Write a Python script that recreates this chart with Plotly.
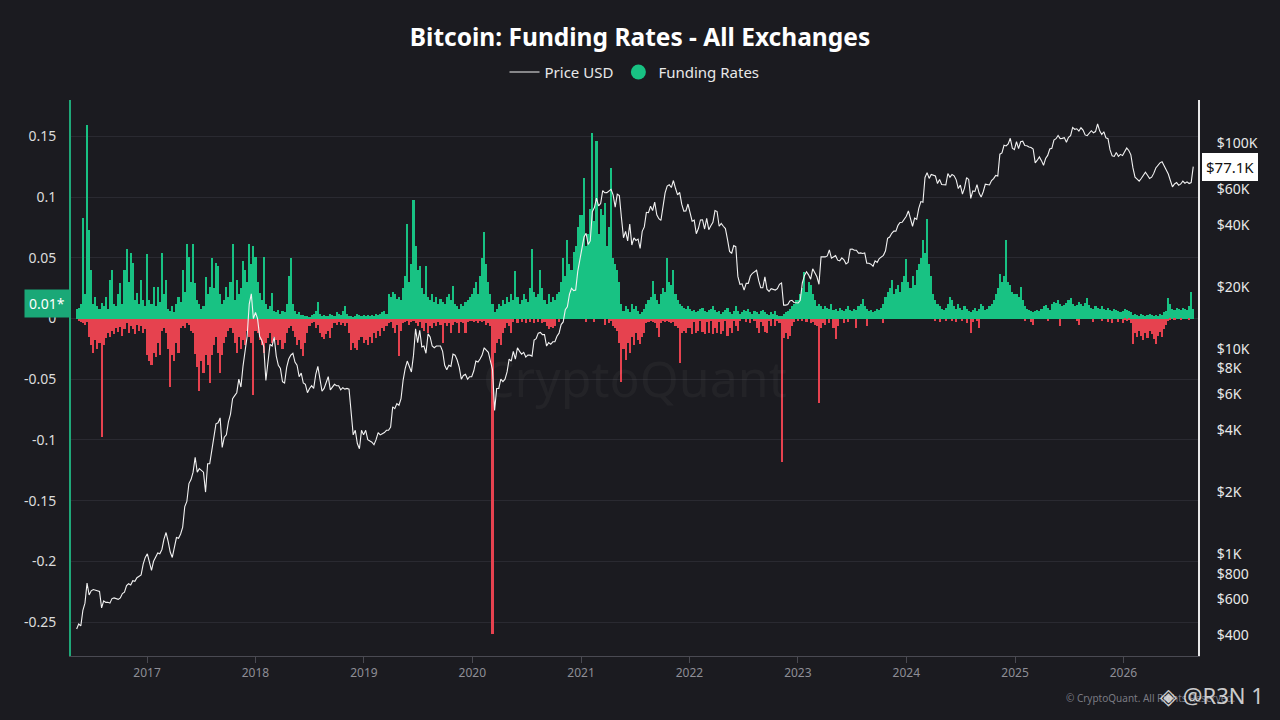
import pandas as pd
import plotly.graph_objects as go

# weekly samples (mondays), one block per calendar year
year_starts = ["2016-05-09", "2017-01-02", "2018-01-01", "2019-01-07", "2020-01-06", "2021-01-04",
               "2022-01-03", "2023-01-02", "2024-01-01", "2025-01-06", "2026-01-05"]

# Price USD
price_2016 = [430, 455, 445, 530, 575, 720, 630, 660, 670, 665, 655, 655, 545, 590, 580, 580, 575,
              605, 610, 605, 600, 610, 640, 650, 700, 715, 705, 740, 735, 765, 775, 790, 890, 960]
price_2017 = [1000, 900, 830, 920, 970, 1010, 1000, 1050, 1180, 1270, 1150, 1020, 960,
              1080, 1200, 1190, 1250, 1350, 1700, 1800, 2200, 2300, 2500, 2950, 2500, 2600,
              2550, 2500, 2000, 2750, 2750, 3200, 3900, 4300, 4350, 4600, 3300, 3700, 3800,
              4400, 4800, 5700, 5900, 6100, 7100, 6500, 8200, 9700, 11500, 16500, 18500, 14000]
price_2018 = [15000, 14000, 11500, 11000, 10200, 7000, 8500, 10500, 10300, 11400, 9200, 8300, 8000,
              6900, 6800, 8100, 8900, 9300, 9500, 8600, 8300, 7300, 7600, 6800, 6700, 6100,
              6400, 6600, 6400, 7500, 8200, 7000, 6200, 6400, 6900, 7300, 6300, 6500, 6700,
              6600, 6600, 6300, 6450, 6350, 6400, 6350, 4700, 3800, 4000, 3450, 3250, 4000, 3800]
price_2019 = [4000, 3600, 3550, 3500, 3400, 3600, 3900, 3800, 3850, 3900, 4000, 4000, 4150,
              5200, 5100, 5400, 5300, 5700, 7000, 8000, 8700, 8100, 7700, 9300, 12500, 10700,
              12300, 10200, 10300, 9500, 11800, 11400, 10300, 10100, 10300, 10300, 10300, 9700, 8300,
              7900, 8300, 8200, 9400, 9300, 8800, 8100, 7100, 7400, 7500, 7100, 7300, 7300]
price_2020 = [7800, 8700, 8600, 8900, 9300, 10100, 9900, 9600, 8700, 7900, 5000, 6400, 6400,
              7100, 6900, 7100, 7700, 8900, 8700, 9700, 8900, 10100, 9700, 9400, 9600, 9100,
              9300, 9300, 9200, 11000, 11200, 11900, 12000, 11700, 11700, 10300, 10700, 10500, 10800,
              10800, 11500, 11900, 13100, 13500, 15500, 16000, 18400, 19700, 19200, 19300, 23800, 27000]
price_2021 = [32000, 35000, 36500, 32200, 33500, 46500, 48700, 54100, 49600, 51000, 59000, 57500, 57600,
              58800, 59800, 56200, 49000, 56600, 55800, 43500, 34700, 37300, 33500, 40500, 32000, 34700,
              33700, 34200, 30800, 37300, 39200, 46200, 46000, 49500, 47100, 51800, 44900, 43000, 42200,
              49200, 57500, 62000, 63000, 61000, 66000, 60500, 56200, 57800, 50600, 46800, 46900, 50700]
price_2022 = [46400, 41800, 42300, 36300, 38500, 42400, 42500, 38300, 43200, 38000, 39700, 41300, 47100,
              46600, 39500, 40800, 39500, 38500, 34100, 29800, 29100, 31800, 31400, 22500, 20600, 20700,
              19300, 20800, 20800, 22600, 23300, 23800, 24100, 21500, 19800, 19800, 22400, 19500, 19000,
              19600, 19400, 19300, 19600, 20600, 20900, 16300, 16300, 16400, 17100, 17200, 16800, 16800]
price_2023 = [16700, 17200, 20900, 22700, 23700, 22900, 21800, 24500, 23500, 22400, 20600, 28000, 28000,
              28000, 28300, 30300, 27600, 28000, 28400, 27000, 26800, 27700, 27100, 25900, 26300, 30500,
              30600, 30200, 30200, 29200, 29300, 29100, 29300, 26100, 26100, 25800, 25200, 26800, 26300,
              27500, 27900, 28500, 30000, 34500, 35000, 36500, 37400, 37400, 39900, 41200, 41300, 43000]
price_2024 = [44200, 46900, 42800, 39500, 43300, 42700, 48300, 52100, 51700, 68300, 72100, 67600, 70600,
              69700, 69400, 63800, 66800, 63100, 63100, 62900, 71400, 68500, 70600, 69600, 66500, 60300,
              62700, 56700, 60800, 68200, 66800, 54000, 58700, 58400, 63000, 57300, 54800, 58200, 63300,
              63300, 62800, 66000, 67400, 69900, 69400, 88700, 89900, 98000, 97300, 99500, 106000, 95000, 93400]
price_2025 = [102000, 94500, 102000, 102600, 97700, 97500, 96100, 95600, 94000, 80500, 82900, 86000, 82500,
              78300, 84500, 87500, 94000, 94700, 104000, 105500, 109400, 105700, 105900, 106800, 101500, 107200,
              109200, 119800, 117300, 118000, 115000, 119300, 116200, 110100, 109200, 112100, 115400, 112700, 114300,
              124500, 115200, 110600, 114100, 106500, 105500, 93000, 87000, 86500, 90500, 86500, 88500, 87300]
price_2026 = [91500, 95000, 92500, 88000, 76000, 68500, 67000, 65500, 67500, 69500, 72500, 70000,
              67500, 68500, 71500, 76000, 78500, 80500, 81500, 77500, 74000, 71000, 66000, 61500,
              63500, 64500, 62500, 63500, 65500, 64000, 65000, 63800, 64500, 77100]

# Funding Rates: weekly high (>= 0)
high_2016 = [0.008, 0.009, 0.012, 0.083, 0.02, 0.159, 0.073, 0.04, 0.012, 0.018, 0.01, 0.008, 0.013,
             0.01, 0.018, 0.008, 0.032, 0.04, 0.012, 0.01, 0.02, 0.029, 0.012, 0.04, 0.057, 0.03,
             0.054, 0.046, 0.015, 0.021, 0.012, 0.032, 0.015, 0.01]
high_2017 = [0.053, 0.015, 0.012, 0.026, 0.01, 0.026, 0.014, 0.054, 0.02, 0.032, 0.008, 0.006, 0.01,
             0.005, 0.012, 0.018, 0.014, 0.04, 0.022, 0.061, 0.051, 0.03, 0.061, 0.029, 0.015, 0.012,
             0.008, 0.01, 0.034, 0.02, 0.026, 0.05, 0.025, 0.046, 0.043, 0.02, 0.012, 0.015, 0.026,
             0.018, 0.03, 0.061, 0.015, 0.032, 0.02, 0.025, 0.047, 0.04, 0.03, 0.061, 0.045, 0.06]
high_2018 = [0.051, 0.03, 0.021, 0.015, 0.051, 0.012, 0.008, 0.01, 0.021, 0.006, 0.005, 0.007, 0.004,
             0.006, 0.005, 0.012, 0.035, 0.05, 0.012, 0.006, 0.004, 0.005, 0.003, 0.003, 0.002, 0.002,
             0.001, 0.003, 0.004, 0.006, 0.014, 0.004, 0.002, 0.003, 0.002, 0.002, 0.004, 0.003, 0.002,
             0.005, 0.004, 0.003, 0.006, 0.01, 0.004, 0.002, 0.002, 0.001, 0.002, 0.004, 0.003, 0.002, 0.003]
high_2019 = [0.002, 0.003, 0.002, 0.003, 0.002, 0.004, 0.003, 0.004, 0.005, 0.006, 0.004, 0.02, 0.018,
             0.022, 0.02, 0.016, 0.018, 0.015, 0.025, 0.035, 0.078, 0.03, 0.045, 0.098, 0.06, 0.04,
             0.043, 0.025, 0.02, 0.043, 0.018, 0.015, 0.02, 0.014, 0.018, 0.012, 0.016, 0.014, 0.012,
             0.018, 0.02, 0.015, 0.027, 0.012, 0.01, 0.008, 0.012, 0.01, 0.014, 0.015, 0.018, 0.02]
high_2020 = [0.025, 0.03, 0.02, 0.035, 0.05, 0.071, 0.045, 0.03, 0.02, 0.012, 0.005, 0.008, 0.012,
             0.01, 0.015, 0.012, 0.018, 0.014, 0.02, 0.015, 0.039, 0.018, 0.012, 0.015, 0.02, 0.016,
             0.014, 0.025, 0.057, 0.022, 0.018, 0.02, 0.04, 0.025, 0.015, 0.012, 0.02, 0.014, 0.018,
             0.015, 0.02, 0.022, 0.03, 0.05, 0.035, 0.065, 0.045, 0.04, 0.055, 0.06, 0.075, 0.085]
high_2021 = [0.085, 0.116, 0.06, 0.07, 0.09, 0.153, 0.08, 0.146, 0.07, 0.09, 0.085, 0.095, 0.06,
             0.075, 0.124, 0.05, 0.045, 0.04, 0.03, 0.012, 0.006, 0.01, 0.008, 0.005, 0.012, 0.008,
             0.01, 0.006, 0.004, 0.005, 0.008, 0.012, 0.015, 0.018, 0.031, 0.02, 0.015, 0.012, 0.02,
             0.025, 0.022, 0.05, 0.03, 0.028, 0.04, 0.02, 0.015, 0.012, 0.01, 0.009, 0.008, 0.01]
high_2022 = [0.008, 0.006, 0.007, 0.005, 0.006, 0.008, 0.009, 0.006, 0.005, 0.007, 0.008, 0.01, 0.007,
             0.005, 0.006, 0.004, 0.005, 0.007, 0.009, 0.005, 0.004, 0.006, 0.01, 0.006, 0.004, 0.005,
             0.007, 0.006, 0.008, 0.005, 0.004, 0.006, 0.005, 0.004, 0.006, 0.007, 0.005, 0.004, 0.003,
             0.005, 0.004, 0.006, 0.003, 0.002, 0.002, 0.004, 0.005, 0.006, 0.008, 0.01, 0.012, 0.015]
high_2023 = [0.015, 0.02, 0.025, 0.038, 0.022, 0.03, 0.028, 0.02, 0.015, 0.01, 0.012, 0.01, 0.008,
             0.01, 0.009, 0.008, 0.012, 0.007, 0.008, 0.006, 0.009, 0.007, 0.006, 0.008, 0.01, 0.007,
             0.006, 0.008, 0.007, 0.01, 0.012, 0.016, 0.01, 0.008, 0.006, 0.007, 0.005, 0.006, 0.008,
             0.007, 0.009, 0.012, 0.018, 0.022, 0.025, 0.032, 0.02, 0.024, 0.028, 0.022, 0.03, 0.035]
high_2024 = [0.049, 0.03, 0.025, 0.035, 0.028, 0.04, 0.045, 0.05, 0.065, 0.054, 0.082, 0.045, 0.035,
             0.02, 0.015, 0.012, 0.01, 0.008, 0.007, 0.009, 0.012, 0.018, 0.015, 0.01, 0.008, 0.012,
             0.009, 0.007, 0.01, 0.008, 0.006, 0.005, 0.007, 0.009, 0.006, 0.008, 0.012, 0.01, 0.007,
             0.008, 0.01, 0.012, 0.015, 0.02, 0.025, 0.037, 0.03, 0.035, 0.065, 0.03, 0.028, 0.022, 0.02]
high_2025 = [0.02, 0.018, 0.026, 0.015, 0.01, 0.008, 0.007, 0.006, 0.005, 0.006, 0.007, 0.006, 0.008,
             0.01, 0.011, 0.009, 0.007, 0.012, 0.014, 0.013, 0.015, 0.012, 0.01, 0.011, 0.013, 0.015,
             0.017, 0.012, 0.01, 0.011, 0.014, 0.012, 0.01, 0.013, 0.017, 0.011, 0.009, 0.008, 0.01,
             0.009, 0.008, 0.01, 0.008, 0.007, 0.009, 0.007, 0.006, 0.008, 0.007, 0.006, 0.005, 0.006]
high_2026 = [0.008, 0.007, 0.006, 0.005, 0.003, 0.004, 0.003, 0.002, 0.004, 0.003, 0.002, 0.003,
             0.004, 0.003, 0.002, 0.003, 0.002, 0.004, 0.003, 0.005, 0.006, 0.017, 0.012, 0.008,
             0.007, 0.009, 0.008, 0.007, 0.009, 0.008, 0.007, 0.01, 0.022, 0.008]

# Funding Rates: weekly low (<= 0)
low_2016 = [0, -0.002, -0.003, -0.004, -0.005, -0.003, -0.015, -0.022, -0.028, -0.018, -0.025, -0.02, -0.098,
            -0.022, -0.016, -0.012, -0.015, -0.01, -0.013, -0.008, -0.011, -0.007, -0.014, -0.009, -0.004, -0.012,
            -0.006, -0.009, -0.013, -0.005, -0.01, -0.006, -0.012, -0.009]
low_2017 = [-0.03, -0.035, -0.038, -0.028, -0.032, -0.02, -0.03, -0.01, -0.008, -0.012, -0.025, -0.056, -0.03,
            -0.035, -0.02, -0.028, -0.008, -0.006, -0.008, -0.004, -0.005, -0.01, -0.012, -0.029, -0.04, -0.06,
            -0.035, -0.045, -0.03, -0.038, -0.053, -0.03, -0.022, -0.015, -0.028, -0.045, -0.03, -0.02, -0.015,
            -0.01, -0.008, -0.012, -0.02, -0.028, -0.015, -0.025, -0.018, -0.022, -0.01, -0.015, -0.02, -0.063]
low_2018 = [-0.01, -0.012, -0.018, -0.022, -0.028, -0.02, -0.016, -0.012, -0.02, -0.015, -0.018, -0.022, -0.018,
            -0.025, -0.02, -0.012, -0.008, -0.006, -0.01, -0.015, -0.022, -0.018, -0.025, -0.031, -0.02, -0.012,
            -0.006, -0.004, -0.003, -0.008, -0.005, -0.012, -0.015, -0.017, -0.013, -0.01, -0.016, -0.008, -0.004,
            -0.005, -0.003, -0.005, -0.004, -0.006, -0.004, -0.012, -0.026, -0.02, -0.024, -0.026, -0.018, -0.015, -0.02]
low_2019 = [-0.018, -0.022, -0.015, -0.02, -0.012, -0.016, -0.01, -0.014, -0.008, -0.01, -0.006, -0.004, -0.003,
            -0.008, -0.012, -0.005, -0.031, -0.01, -0.004, -0.003, -0.002, -0.005, -0.003, -0.002, -0.004, -0.006,
            -0.003, -0.008, -0.01, -0.004, -0.012, -0.006, -0.008, -0.004, -0.006, -0.003, -0.005, -0.02, -0.004,
            -0.006, -0.004, -0.012, -0.005, -0.003, -0.004, -0.012, -0.003, -0.004, -0.012, -0.003, -0.002, -0.002]
low_2020 = [-0.003, -0.002, -0.004, -0.002, -0.003, -0.002, -0.005, -0.004, -0.006, -0.26, -0.028, -0.02, -0.017,
            -0.022, -0.012, -0.008, -0.004, -0.006, -0.012, -0.003, 0, -0.004, 0, -0.003, 0, -0.004,
            0, -0.003, 0, -0.004, 0, -0.003, 0, -0.004, -0.003, -0.006, -0.009, -0.007, -0.008,
            -0.006, 0, -0.003, 0, 0, 0, 0, 0, 0, 0, 0, 0, 0]
low_2021 = [0, 0, -0.003, 0, 0, 0, -0.003, 0, 0, 0, 0, -0.005, 0,
            -0.004, -0.002, -0.006, -0.008, -0.01, -0.02, -0.052, -0.025, -0.034, -0.02, -0.028, -0.015, -0.022,
            -0.012, -0.018, -0.021, -0.015, -0.012, -0.004, -0.003, -0.002, -0.003, -0.004, -0.008, -0.015, -0.004,
            -0.002, -0.003, -0.002, -0.003, -0.004, -0.003, -0.006, -0.008, -0.037, -0.012, -0.01, -0.012, -0.008]
low_2022 = [-0.008, -0.013, -0.003, -0.012, -0.01, -0.002, -0.011, -0.013, -0.003, -0.012, -0.002, -0.013, -0.008,
            -0.012, -0.003, -0.013, -0.01, -0.002, -0.014, -0.008, -0.012, -0.002, -0.006, -0.01, -0.002, 0,
            0, -0.003, 0, -0.004, 0, -0.002, -0.008, -0.012, -0.003, -0.006, -0.011, -0.012, -0.002,
            -0.006, 0, -0.006, -0.002, -0.004, -0.118, -0.016, -0.012, -0.017, -0.014, -0.006, -0.003, 0]
low_2023 = [-0.002, 0, -0.002, 0, -0.003, 0, -0.004, -0.003, -0.005, -0.006, -0.07, -0.008, -0.004,
            -0.005, 0, -0.004, 0, -0.008, -0.017, -0.006, 0, 0, -0.004, 0, -0.003, 0,
            0, 0, -0.008, 0, 0, 0, 0, -0.006, 0, 0, 0, 0, 0,
            0, 0, -0.004, 0, 0, 0, 0, 0, 0, 0, 0, 0, 0]
low_2024 = [0, 0, 0, 0, 0, 0, 0, 0, 0, 0, 0, 0, 0,
            0, -0.002, 0, -0.003, 0, 0, -0.002, 0, 0, -0.002, 0, -0.003, 0,
            0, -0.002, 0, -0.004, 0, -0.012, -0.003, 0, -0.002, -0.008, 0, 0, 0,
            0, 0, 0, 0, 0, 0, 0, 0, 0, 0, 0, 0, 0, 0]
low_2025 = [0, 0, 0, 0, -0.002, 0, 0, -0.003, -0.005, 0, 0, 0, 0,
            0, 0, -0.002, 0, 0, 0, 0, 0, -0.006, 0, 0, 0, 0,
            0, 0, 0, -0.002, -0.005, 0, 0, 0, 0, 0, 0, -0.003, 0,
            0, 0, -0.002, 0, 0, -0.003, 0, -0.004, 0, 0, -0.003, 0, -0.004]
low_2026 = [-0.001, -0.002, -0.001, -0.004, -0.021, -0.012, -0.015, -0.01, -0.014, -0.018, -0.012, -0.016,
            -0.01, -0.013, -0.017, -0.021, -0.014, -0.011, -0.015, -0.009, -0.005, -0.002, -0.001, 0,
            -0.001, 0, 0, -0.001, 0, 0, 0, -0.001, 0, 0]

rate_ticks = [-0.25, -0.2, -0.15, -0.1, -0.05, 0, 0.05, 0.1, 0.15]
rate_labels = ["-0.25", "-0.2", "-0.15", "-0.1", "-0.05", "0", "0.05", "0.1", "0.15"]
price_ticks = [400, 600, 800, 1000, 2000, 4000, 6000, 8000, 10000, 20000, 40000, 60000, 100000]
price_labels = ["$400", "$600", "$800", "$1K", "$2K", "$4K", "$6K", "$8K", "$10K", "$20K", "$40K", "$60K", "$100K"]
year_ticks = ["2017-01-01", "2018-01-01", "2019-01-01", "2020-01-01", "2021-01-01",
              "2022-01-01", "2023-01-01", "2024-01-01", "2025-01-01", "2026-01-01"]
year_labels = ["2017", "2018", "2019", "2020", "2021", "2022", "2023", "2024", "2025", "2026"]

price_blocks = [price_2016, price_2017, price_2018, price_2019, price_2020, price_2021,
                price_2022, price_2023, price_2024, price_2025, price_2026]
high_blocks = [high_2016, high_2017, high_2018, high_2019, high_2020, high_2021,
               high_2022, high_2023, high_2024, high_2025, high_2026]
low_blocks = [low_2016, low_2017, low_2018, low_2019, low_2020, low_2021,
              low_2022, low_2023, low_2024, low_2025, low_2026]

dates, price, high, low = [], [], [], []
for start, p, h, l in zip(year_starts, price_blocks, high_blocks, low_blocks):
    assert len(p) == len(h) == len(l), start
    dates += list(pd.date_range(start, periods=len(p), freq="7D"))
    price += p
    high += h
    low += l

BG = "#1b1b20"
GREEN = "#18c283"
RED = "#e6424f"
BAR_MS = 7 * 24 * 3600 * 1000

fig = go.Figure()
fig.add_trace(go.Bar(x=dates, y=high, width=BAR_MS, marker=dict(color=GREEN, line=dict(width=0)),
                     showlegend=False, name="Funding Rates"))
fig.add_trace(go.Bar(x=dates, y=low, width=BAR_MS, marker=dict(color=RED, line=dict(width=0)),
                     showlegend=False, name="Funding Rates"))
fig.add_trace(go.Scatter(x=dates, y=price, yaxis="y2", mode="lines", name="Price USD",
                         line=dict(color="#f2f2f2", width=1.1)))
# legend-only entry so the funding series shows a round marker like the original
fig.add_trace(go.Scatter(x=[None], y=[None], mode="markers", name="Funding Rates",
                         marker=dict(color=GREEN, size=15, symbol="circle")))

fig.update_layout(
    width=1280, height=720,
    paper_bgcolor=BG, plot_bgcolor=BG,
    barmode="overlay", bargap=0,
    margin=dict(l=71, r=82, t=100, b=64),
    font=dict(family="Noto Sans", color="#e8e8e8"),
    title=dict(text="<b>Bitcoin: Funding Rates - All Exchanges</b>", x=0.5, xanchor="center",
               y=0.948, yanchor="middle", font=dict(size=24.5, color="#ffffff")),
    legend=dict(orientation="h", x=0.5, xanchor="center", y=1.05, yanchor="middle",
                font=dict(size=15, color="#e8e8e8"), bgcolor="rgba(0,0,0,0)", itemwidth=30,
                traceorder="normal"),
    xaxis=dict(type="date", range=["2016-04-20", "2026-09-09"], tickvals=year_ticks, ticktext=year_labels,
               showgrid=False, showline=True, linecolor="#4a4a52", linewidth=1,
               ticks="outside", ticklen=6, tickcolor="#4a4a52",
               tickfont=dict(size=12, color="#8e8e96"), zeroline=False),
    yaxis=dict(range=[-0.278, 0.18], tickvals=rate_ticks, ticktext=rate_labels,
               showgrid=True, gridcolor="#2a2a31", gridwidth=1, zeroline=False,
               showline=True, linecolor="#1fa878", linewidth=2,
               ticks="", ticklabelstandoff=10, tickfont=dict(size=14, color="#dcdcdc")),
    yaxis2=dict(type="log", overlaying="y", side="right", range=[2.502, 5.212],
                tickvals=price_ticks, ticktext=price_labels, showgrid=False, zeroline=False,
                showline=True, linecolor="#e8e8e8", linewidth=2,
                ticks="", ticklabelstandoff=14, tickfont=dict(size=14, color="#e8e8e8")),
    hovermode=False,
)

fig.add_annotation(text="CryptoQuant", xref="paper", yref="paper", x=0.5, y=0.5,
                   showarrow=False, font=dict(size=50, color="rgba(255,255,255,0.035)"))
fig.add_annotation(text="0.01*", xref="paper", yref="y", x=0, y=0.0125, xanchor="right", xshift=-1,
                   showarrow=False, bgcolor="#1aa877", borderpad=4,
                   font=dict(size=14, color="#ffffff"))
fig.add_annotation(text="$77.1K", xref="paper", yref="y2", x=1, y=4.887, xanchor="left", xshift=4,
                   showarrow=False, bgcolor="#ffffff", bordercolor="#ffffff", borderpad=3,
                   font=dict(size=15, color="#111111"))
fig.add_annotation(text="© CryptoQuant. All Rights Reserved.", xref="paper", yref="paper",
                   x=1.035, y=-0.075, xanchor="right", yanchor="middle", showarrow=False,
                   font=dict(size=10, color="#7a7a82"))
fig.add_annotation(text="◈ @R3N 1", xref="paper", yref="paper", x=1.06, y=-0.07,
                   xanchor="right", yanchor="middle", showarrow=False,
                   font=dict(size=22, color="rgba(235,235,235,0.85)"))

# drop the default page margin so the 1280x720 figure fills the window exactly
fig.write_html("out.html", config={"displayModeBar": False},
               post_script="document.body.style.margin='0';")
